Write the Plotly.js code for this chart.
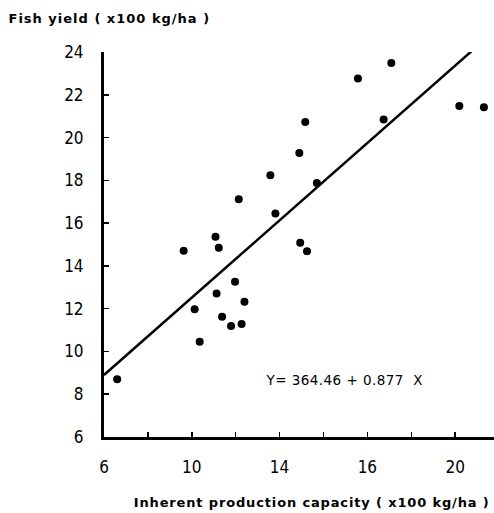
<!DOCTYPE html>
<html>
<head>
<meta charset="utf-8">
<script src="https://cdn.plot.ly/plotly-3.0.1.min.js"></script>
<style>
html,body{margin:0;padding:0;background:#fff;}
#chart{width:494px;height:513px;}
g.annotation[data-index="0"] text{letter-spacing:1px;}
g.annotation[data-index="1"] text{letter-spacing:0.85px;}
g.annotation[data-index="2"] text{letter-spacing:0.45px;}
</style>
</head>
<body>
<div id="chart"></div>
<script>
// Observed data (x100 kg/ha)
var capacityX = [6.60, 9.63, 10.13, 10.36, 11.08, 11.23, 11.13, 11.38, 11.79, 11.97, 12.40, 12.27, 12.14,
                 13.58, 13.81, 14.90, 14.94, 15.17, 15.25, 15.70, 17.57, 18.74, 19.09, 22.19, 23.31];
var yieldY    = [8.70, 14.71, 11.97, 10.45, 15.36, 14.85, 12.71, 11.62, 11.19, 13.26, 12.32, 11.28, 17.11,
                 18.24, 16.45, 19.28, 15.08, 20.73, 14.69, 17.88, 22.76, 20.85, 23.49, 21.47, 21.42];
// Regression line endpoints as drawn
var lineX = [6.0, 22.76];
var lineY = [8.90, 24.05];
// Tick values and labels as printed
var xTickVals = [6, 8, 10, 12, 14, 16, 18, 20, 22];
var xTickText = ["6", "", "10", "", "14", "", "16", "", "20"];
var yTickVals = [6, 8, 10, 12, 14, 16, 18, 20, 22, 24];
var yTickText = ["6", "8", "10", "12", "14", "16", "18", "20", "22", "24"];

var tickFont = {family: "'Liberation Sans Narrow', 'DejaVu Sans Condensed', Arial, sans-serif", size: 17, color: "#000"};
var titleFamily = "'DejaVu Sans', 'Liberation Sans', Arial, sans-serif";

var traces = [
  {x: capacityX, y: yieldY, mode: "markers", type: "scatter",
   marker: {color: "#000", size: 8}, hoverinfo: "x+y"},
  {x: lineX, y: lineY, mode: "lines", type: "scatter",
   line: {color: "#000", width: 2.5}, hoverinfo: "skip"}
];

var layout = {
  width: 494, height: 513,
  margin: {l: 103.5, r: 0, t: 52, b: 76},
  paper_bgcolor: "#fff", plot_bgcolor: "#fff",
  showlegend: false,
  xaxis: {range: [6, 23.77], tickvals: xTickVals, ticktext: xTickText,
          ticks: "inside", ticklen: 5, tickwidth: 1.5, tickcolor: "#000",
          showline: true, linewidth: 3, linecolor: "#000", showgrid: false, zeroline: false,
          tickfont: tickFont, ticklabelstandoff: 13, fixedrange: true},
  yaxis: {range: [6, 24], tickvals: yTickVals, ticktext: yTickText,
          ticks: "inside", ticklen: 5, tickwidth: 1.5, tickcolor: "#000",
          showline: true, linewidth: 3, linecolor: "#000", showgrid: false, zeroline: false,
          tickfont: tickFont, ticklabelstandoff: 14, fixedrange: true},
  annotations: [
    {xref: "paper", yref: "paper", x: (109 - 103.5) / 390.5, y: 1.086, xanchor: "center", yanchor: "middle",
     text: "Fish yield ( x100 kg/ha )", showarrow: false,
     font: {family: titleFamily, size: 13, color: "#000", weight: "bold"}},
    {xref: "paper", yref: "paper", x: (311.5 - 103.5) / 390.5, y: -0.169, xanchor: "center", yanchor: "middle",
     text: "Inherent production capacity ( x100 kg/ha )", showarrow: false,
     font: {family: titleFamily, size: 13, color: "#000", weight: "bold"}},
    {xref: "x", yref: "y", x: 16.95, y: 8.66, xanchor: "center", yanchor: "middle",
     text: "Y= 364.46 + 0.877  X", showarrow: false,
     font: {family: titleFamily, size: 13.5, color: "#000"}}
  ]
};

Plotly.newPlot("chart", traces, layout, {displayModeBar: false, staticPlot: true});
</script>
</body>
</html>
